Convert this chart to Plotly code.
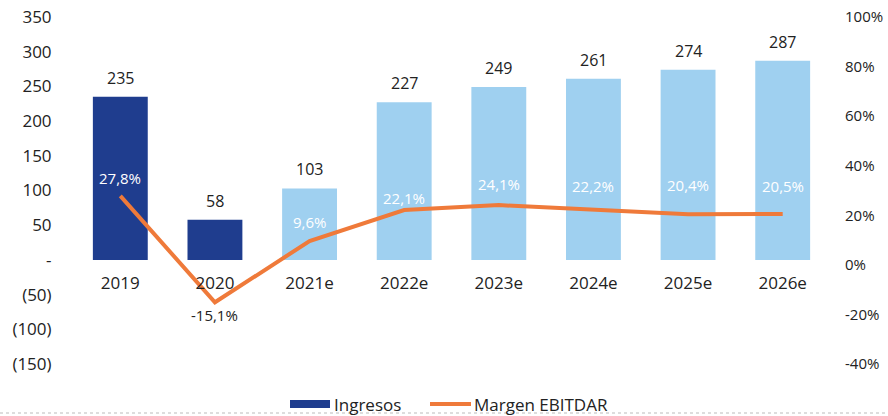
import plotly.graph_objects as go

categories = ["2019", "2020", "2021e", "2022e", "2023e", "2024e", "2025e", "2026e"]
ingresos = [235, 58, 103, 227, 249, 261, 274, 287]
margen = [27.8, -15.1, 9.6, 22.1, 24.1, 22.2, 20.4, 20.5]
margen_labels = ["27,8%", "-15,1%", "9,6%", "22,1%", "24,1%", "22,2%", "20,4%", "20,5%"]
left_ticks = [350, 300, 250, 200, 150, 100, 50, 0, -50, -100, -150]
left_ticktext = ["350", "300", "250", "200", "150", "100", "50", "-", "(50)", "(100)", "(150)"]
right_ticks = [100, 80, 60, 40, 20, 0, -20, -40]
right_ticktext = ["100%", "80%", "60%", "40%", "20%", "0%", "-20%", "-40%"]
series_names = ["Ingresos", "Margen EBITDAR"]

DARK = "#1f3d8e"
LIGHT = "#9fd0f0"
ORANGE = "#ef7a3a"
FONT = "Open Sans"
TXT = "#222222"

W, H = 888, 416
ML, MR, MT, MB = 73, 58, 17, 52
PW, PH = W - ML - MR, H - MT - MB


def px_x(px):
    return (px - ML) / PW


def px_y(py):
    return (H - MB - py) / PH


bar_colors = [DARK, DARK] + [LIGHT] * 6

fig = go.Figure()
fig.add_trace(go.Bar(
    x=categories, y=ingresos, name=series_names[0],
    marker=dict(color=bar_colors, line=dict(width=0)),
    yaxis="y", showlegend=False,
))
fig.add_trace(go.Scatter(
    x=categories, y=margen, name=series_names[1], mode="lines",
    line=dict(color=ORANGE, width=4), yaxis="y2", showlegend=False,
))

# bar value labels
for i, v in enumerate(ingresos):
    fig.add_annotation(
        x=i, y=v, xref="x", yref="y", text=str(v), showarrow=False,
        yanchor="bottom", yshift=6,
        font=dict(size=16, color=TXT, family=FONT),
    )

# margin labels
label_shift = [18, -13, 19, 12, 21, 24, 29, 28]
for i, (v, t) in enumerate(zip(margen, margen_labels)):
    fig.add_annotation(
        x=i, y=v, xref="x", yref="y2", text=t, showarrow=False,
        yshift=label_shift[i],
        font=dict(size=15, color=TXT if v < 0 else "white", family=FONT),
    )

fig.update_layout(
    width=W, height=H,
    margin=dict(l=ML, r=MR, t=MT, b=MB, autoexpand=False),
    plot_bgcolor="white", paper_bgcolor="white",
    bargap=0.42,
    font=dict(family=FONT, size=17, color=TXT),
    showlegend=False,
    xaxis=dict(
        anchor="free", position=0.3, showline=False, showgrid=False,
        ticks="outside", ticklen=8, tickcolor="rgba(0,0,0,0)",
        tickfont=dict(size=17, family=FONT),
        range=[-0.5, 7.5], automargin=False,
    ),
    yaxis=dict(
        range=[-150, 350], tickvals=left_ticks, ticktext=left_ticktext,
        showgrid=False, zeroline=False, showline=False,
        ticks="outside", ticklen=17, tickcolor="rgba(0,0,0,0)",
        tickfont=dict(size=17, family=FONT), automargin=False,
        ticklabeloverflow="allow",
    ),
    yaxis2=dict(
        range=[-40, 100], tickvals=right_ticks, ticktext=right_ticktext,
        overlaying="y", side="right", showgrid=False, zeroline=False, showline=False,
        ticks="outside", ticklen=11, tickcolor="rgba(0,0,0,0)",
        tickfont=dict(size=15, family=FONT), automargin=False,
        ticklabeloverflow="allow",
    ),
)

# custom legend
fig.add_shape(type="rect", xref="paper", yref="paper",
              x0=px_x(290), x1=px_x(330), y0=px_y(408), y1=px_y(400),
              fillcolor=DARK, line=dict(width=0))
fig.add_annotation(xref="paper", yref="paper", x=px_x(332), y=px_y(404),
                   xanchor="left", yanchor="middle", text=series_names[0],
                   showarrow=False, font=dict(size=17, color=TXT, family=FONT))
fig.add_shape(type="line", xref="paper", yref="paper",
              x0=px_x(430), x1=px_x(471), y0=px_y(404), y1=px_y(404),
              line=dict(color=ORANGE, width=4))
fig.add_annotation(xref="paper", yref="paper", x=px_x(472), y=px_y(404),
                   xanchor="left", yanchor="middle", text=series_names[1],
                   showarrow=False, font=dict(size=17, color=TXT, family=FONT))

fig.add_shape(type="line", xref="paper", yref="paper", x0=px_x(0), x1=px_x(888),
              y0=px_y(413), y1=px_y(413),
              line=dict(color="#bbbbbb", width=1, dash="dot"))

fig.write_html(
    "out.html",
    config={"displayModeBar": False},
    post_script="document.body.style.margin='0';document.body.style.overflow='hidden';",
)
